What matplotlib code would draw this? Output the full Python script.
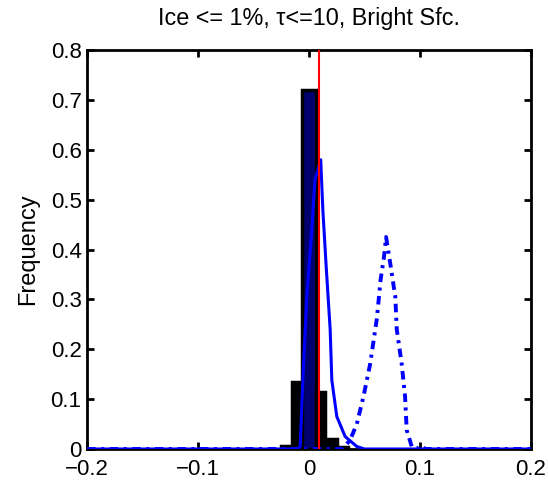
import numpy as np
import matplotlib
matplotlib.use('Agg')
import matplotlib.pyplot as plt

plt.rcParams['font.family'] = ['Liberation Sans', 'DejaVu Sans']

# black histogram (bin edges and frequencies)
bin_edges = [-0.025, -0.015, -0.0066, 0.006, 0.0145, 0.025, 0.035]
bin_freq = [0.006, 0.135, 0.72, 0.115, 0.02, 0.005]

# solid blue distribution
solid_x = [-0.2, -0.01, -0.008, -0.005, -0.002, 0.0024, 0.0054, 0.0105, 0.0124,
           0.0153, 0.019, 0.0205, 0.025, 0.0325, 0.043, 0.05, 0.2]
solid_y = [0, 0, 0.005, 0.17, 0.305, 0.44, 0.54, 0.58, 0.48,
           0.37, 0.24, 0.138, 0.065, 0.025, 0.005, 0, 0]

# dash-dot blue distribution
dash_x = [-0.2, 0.03, 0.037, 0.043, 0.049, 0.055, 0.061, 0.0645, 0.0675, 0.0694,
          0.0733, 0.0777, 0.079, 0.0835, 0.0865, 0.088, 0.0925, 0.097, 0.1, 0.105, 0.2]
dash_y = [0, 0, 0.018, 0.05, 0.105, 0.17, 0.26, 0.34, 0.385, 0.425,
          0.37, 0.305, 0.24, 0.17, 0.105, 0.038, 0.005, 0, 0.006, 0, 0]

threshold = 0.009

x_ticks = [-0.2, -0.1, 0, 0.1, 0.2]
x_labels = ['\u22120.2', '\u22120.1', '0', '0.1', '0.2']
y_ticks = [0, 0.1, 0.2, 0.3, 0.4, 0.5, 0.6, 0.7, 0.8]
y_labels = ['0', '0.1', '0.2', '0.3', '0.4', '0.5', '0.6', '0.7', '0.8']

fig = plt.figure(figsize=(5.48, 4.83), dpi=100)
ax = fig.add_axes([0.159, 0.0704, 0.81, 0.826])

lefts = np.array(bin_edges[:-1])
widths = np.diff(bin_edges)
faces = ['#00006e' if h == max(bin_freq) else 'black' for h in bin_freq]
ax.bar(lefts, bin_freq, width=widths, align='edge', color=faces,
       edgecolor='black', linewidth=2.5, zorder=2)

ax.plot(solid_x, solid_y, color='#0000ff', lw=2.2, zorder=3)
ax.plot(dash_x, dash_y, color='#0000ff', lw=2.8, linestyle=(0, (2.2, 1.4, 0.8, 1.4)), zorder=3)
ax.axvline(threshold, color='red', lw=1.5, zorder=4)

ax.set_xlim(-0.2, 0.2)
ax.set_ylim(0, 0.8)
ax.set_xticks(x_ticks)
ax.set_xticklabels(x_labels)
ax.set_yticks(y_ticks)
ax.set_yticklabels(y_labels)
ax.tick_params(direction='in', length=5, width=2, labelsize=16, top=True, right=True, pad=4)
ax.tick_params(axis='x', pad=7)
for s in ax.spines.values():
    s.set_linewidth(2)

ax.set_ylabel('Frequency', fontsize=17, labelpad=8)
ax.set_title('Ice <= 1%, \u03c4<=10, Bright Sfc.', fontsize=16.8, pad=18)

fig.savefig('out.png', dpi=100)
